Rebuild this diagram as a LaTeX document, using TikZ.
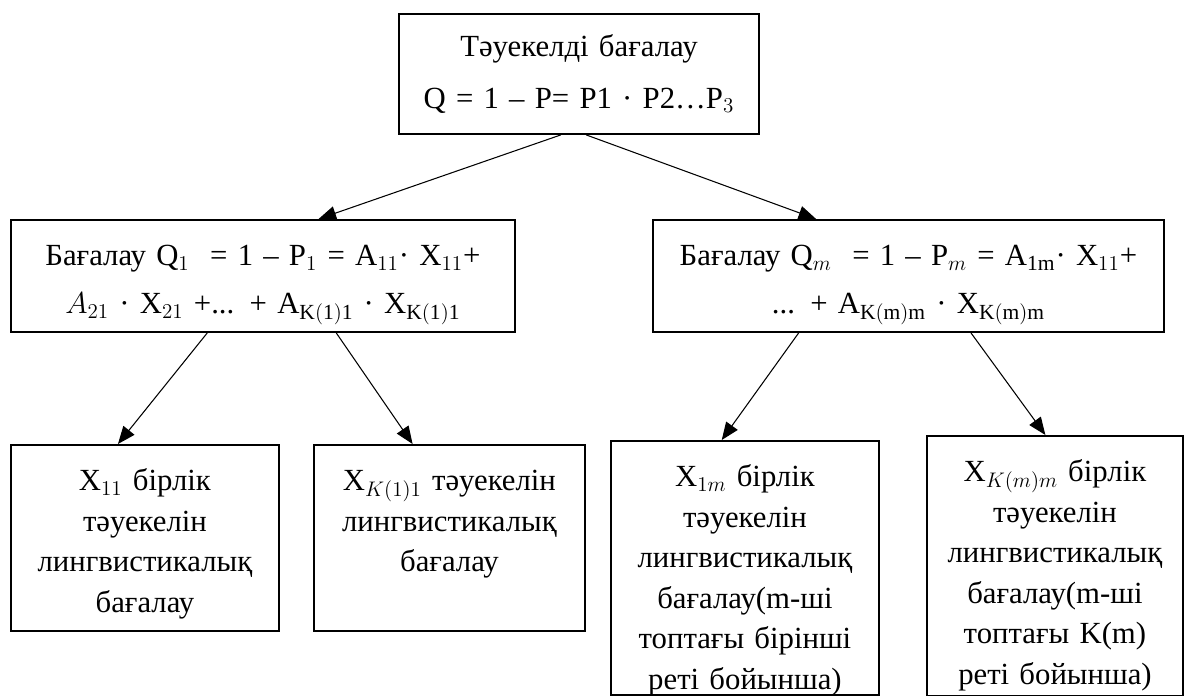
\documentclass[tikz,border=0pt]{standalone}
\usepackage{fontspec}
\setmainfont{Liberation Serif}
\usepackage{tikz}
\usetikzlibrary{arrows.meta, positioning, calc}
\tikzset{
  rbox/.style={rectangle, draw=black, line width=1.1pt, inner sep=0pt,
    align=center, anchor=north west, font=\fontsize{17.5}{23}\selectfont},
  arrow/.style={-{Triangle[length=10pt,width=8pt]}, line width=0.6pt, color=black}
}

\begin{document}
\begin{tikzpicture}[x=0.02cm, y=-0.02cm]
  \useasboundingbox (0,0) rectangle (1184,696);

  \node[rbox, text width=7.2cm, text height=0.86cm, text depth=1.54cm] (risk) at (398,13)
    {Тәуекелді бағалау\\[0.22cm] Q = 1 – P= P1 · P2…P$_3$};
  \node[rbox, text width=10.08cm, text height=0.92cm, text depth=1.32cm] (est1) at (10,219)
    {Бағалау Q$_1$\ \ = 1 – P$_1$ = A$_{11}$· X$_{11}$+\\[0.15cm]
     $A_{21}$ · X$_{21}$ +... + A$_{\mathrm{K(1)1}}$ · X$_{\mathrm{K(1)1}}$};
  \node[rbox, text width=10.22cm, text height=0.92cm, text depth=1.32cm] (estm) at (652,219)
    {Бағалау Q$_m$\ \ = 1 – P$_m$ = A$_{\mathrm{1m}}$· X$_{11}$+\\[0.15cm]
     ... + A$_{\mathrm{K(m)m}}$ · X$_{\mathrm{K(m)m}}$};

  \node[rbox, text width=5.36cm, text height=0.92cm, text depth=2.8cm] (x11) at (10,444)
    {X$_{11}$ бірлік\\ тәуекелін\\ лингвистикалық\\ бағалау};
  \node[rbox, text width=5.42cm, text height=0.92cm, text depth=2.8cm] (xk1) at (313,444)
    {X$_{K(1)1}$ тәуекелін\\ лингвистикалық\\ бағалау};
  \node[rbox, text width=5.36cm, text height=0.92cm, text depth=4.16cm] (x1m) at (610,440)
    {X$_{1m}$ бірлік\\ тәуекелін\\ лингвистикалық\\ бағалау(m-ші\\ топтағы бірінші\\ реті бойынша)};
  \node[rbox, text width=5.12cm, text height=0.92cm, text depth=4.28cm] (xkm) at (926,435)
    {X$_{K(m)m}$ бірлік\\ тәуекелін\\ лингвистикалық\\ бағалау(m-ші\\ топтағы K(m)\\ реті бойынша)};

  \draw[arrow] ($(risk.south west)!0.45!(risk.south east)$) -- ($(est1.north west)!0.61!(est1.north east)$);
  \draw[arrow] ($(risk.south west)!0.52!(risk.south east)$) -- ($(estm.north west)!0.32!(estm.north east)$);
  \draw[arrow] ($(est1.south west)!0.39!(est1.south east)$) -- ($(x11.north west)!0.40!(x11.north east)$);
  \draw[arrow] ($(est1.south west)!0.645!(est1.south east)$) -- ($(xk1.north west)!0.365!(xk1.north east)$);
  \draw[arrow] ($(estm.south west)!0.286!(estm.south east)$) -- ($(x1m.north west)!0.414!(x1m.north east)$);
  \draw[arrow] ($(estm.south west)!0.622!(estm.south east)$) -- ($(xkm.north west)!0.463!(xkm.north east)$);
\end{tikzpicture}
\end{document}
